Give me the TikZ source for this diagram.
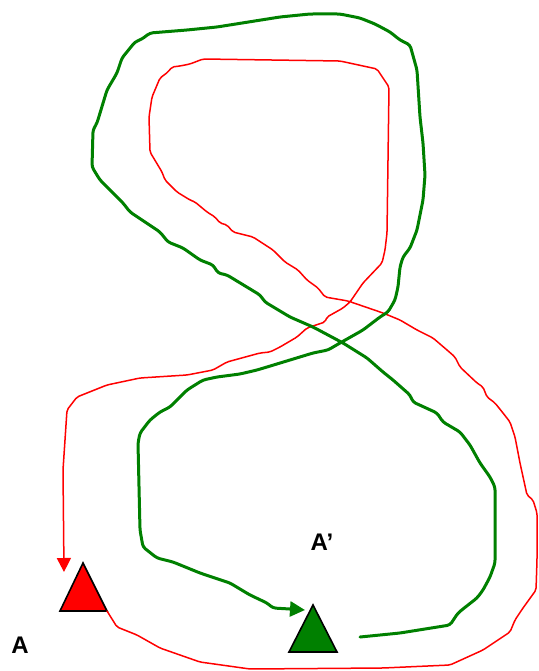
\documentclass[tikz,border=0pt]{standalone}
\usepackage{fontspec}
\setmainfont{Liberation Sans}
\usetikzlibrary{arrows.meta}
\definecolor{leaf}{RGB}{0,128,0}
\tikzset{
  redtrail/.style={red, line width=1.5pt, line join=round, line cap=round,
    rounded corners=2pt, -{Triangle[length=14pt,width=14pt]}},
  greentrail/.style={leaf, line width=3pt, line join=round, line cap=round,
    rounded corners=3pt, -{Triangle[length=15pt,width=15pt]}},
  marker/.style={draw=black, line width=1.6pt, line join=miter},
  lbl/.style={font=\fontsize{24}{28}\selectfont\bfseries, inner sep=0pt}
}
\begin{document}
\begin{tikzpicture}[x=1pt, y=-1pt]
                \useasboundingbox (0,0) rectangle (538,671);

                % Nodes
                \coordinate (A1) at (83,563);
                \coordinate (A2) at (60,611);
                \coordinate (A3) at (107,611);
                \coordinate (B1) at (313,605);
                \coordinate (B2) at (289,652);
                \coordinate (B3) at (337,652);
                \coordinate (redend) at (64,572);
                \coordinate (greenstart) at (360,637);
                \coordinate (greenend) at (305,610);
                \node[lbl] (A) at (20,645) {A};
                \node[lbl] (Ap) at (322,542) {A’};

                % Markers
                \filldraw[marker, fill=red] (A1)--(A2)--(A3)--cycle;
                \filldraw[marker, fill=leaf] (B1)--(B2)--(B3)--cycle;

                % Edges
                \draw[redtrail] (A3) -- (117,627) -- (137,635) -- (160,648) -- (200,662)
                  -- (250,669) -- (383,668) -- (450,665) -- (483,650) -- (510,632)
                  -- (515,620) -- (523,608) -- (536,590) -- (537,560) -- (537,513)
                  -- (533,500) -- (527,495) -- (520,463) -- (515,437) -- (510,422)
                  -- (503,413) -- (495,403) -- (487,397) -- (483,387) -- (477,383)
                  -- (460,367) -- (455,357) -- (447,350) -- (433,338) -- (417,330)
                  -- (400,320) -- (383,313) -- (348,301) -- (325,297) -- (318,288)
                  -- (307,280) -- (298,270) -- (285,262) -- (273,250) -- (253,237)
                  -- (233,232) -- (227,225) -- (220,223) -- (215,217) -- (207,212)
                  -- (195,202) -- (190,200) -- (177,192) -- (165,180) -- (162,172)
                  -- (150,152) -- (149,117) -- (152,97) -- (160,78) -- (168,72)
                  -- (172,67) -- (180,66) -- (190,64) -- (203,59) -- (340,61)
                  -- (377,69) -- (389,87) -- (387,233) -- (385,250) -- (382,263)
                  -- (363,283) -- (350,302) -- (343,308) -- (327,317) -- (325,322)
                  -- (307,328) -- (297,337) -- (280,347) -- (270,352) -- (260,353)
                  -- (227,362) -- (213,370) -- (187,375) -- (140,378) -- (107,385)
                  -- (77,397) -- (67,410) -- (63,470) -- (redend);
                \draw[greentrail] (greenstart) -- (400,633) -- (450,625) -- (458,613)
                  -- (468,605) -- (477,598) -- (483,590) -- (490,577) -- (495,563)
                  -- (495,487) -- (490,477) -- (480,463) -- (470,445) -- (460,432)
                  -- (443,422) -- (437,413) -- (413,402) -- (410,395) -- (393,380)
                  -- (383,372) -- (367,358) -- (343,343) -- (313,327) -- (290,317)
                  -- (265,302) -- (260,295) -- (227,275) -- (218,273) -- (213,265)
                  -- (200,260) -- (183,248) -- (168,242) -- (160,232) -- (130,212)
                  -- (123,203) -- (115,195) -- (112,192) -- (100,180) -- (92,167)
                  -- (93,130) -- (97,123) -- (107,90) -- (117,73) -- (122,58)
                  -- (135,42) -- (142,39) -- (150,33) -- (187,30) -- (217,27)
                  -- (280,17) -- (310,14) -- (340,14) -- (360,18) -- (375,24)
                  -- (390,32) -- (400,40) -- (410,45) -- (417,70) -- (420,117)
                  -- (423,143) -- (425,175) -- (423,200) -- (417,230) -- (410,248)
                  -- (403,257) -- (400,267) -- (398,287) -- (395,300) -- (388,312)
                  -- (380,317) -- (363,330) -- (340,343) -- (328,350) -- (313,353)
                  -- (267,367) -- (257,370) -- (240,374) -- (217,377) -- (203,380)
                  -- (187,390) -- (170,407) -- (160,412) -- (150,420) -- (140,433)
                  -- (138,443) -- (140,530) -- (143,547) -- (157,558) -- (173,562)
                  -- (200,573) -- (230,583) -- (250,595) -- (267,603) -- (273,608)
                  -- (290,609) -- (greenend);
            \end{tikzpicture}
\end{document}
